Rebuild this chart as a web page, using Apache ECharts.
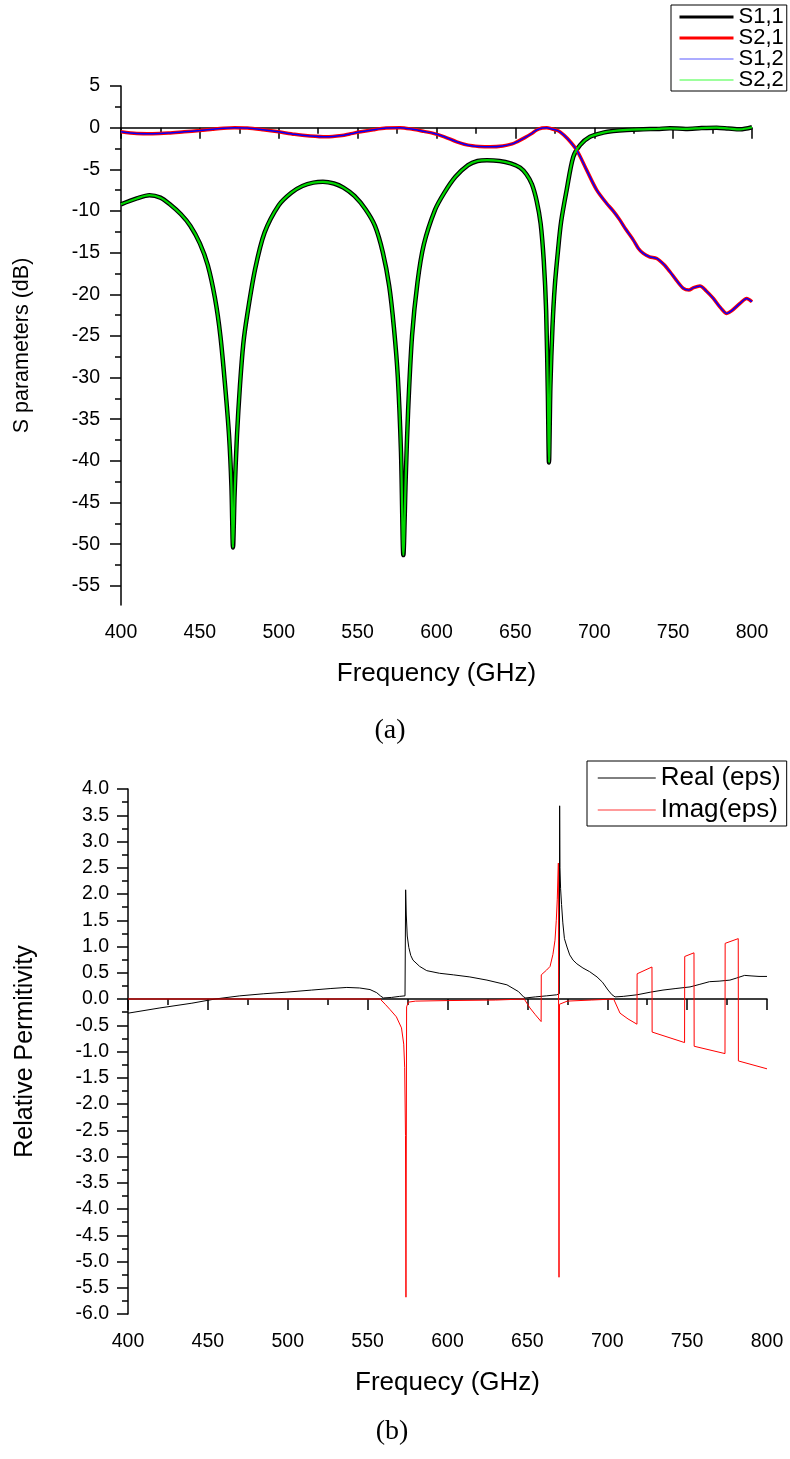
<!DOCTYPE html>
<html>
<head>
<meta charset="utf-8">
<script src="https://cdn.jsdelivr.net/npm/echarts@6/dist/echarts.min.js"></script>
<style>
  html, body { margin: 0; padding: 0; background: #fff; }
  #chart { width: 790px; height: 1459px; }
</style>
</head>
<body>
<div id="chart"></div>
<script>
// (a) S-parameters of the filter, in dB
const dipFreq = [400,410,418,425,431,438,444,450,455,459.6,463,466,468.5,470,471,472,473.5,475.4,477.5,480,485,491,500,508,515,522,528,535,541,548,555,561,566,570,573,575.5,577.5,579,580.5,582,584.5,588,592,599,605,612,620,626,632,640,647,653,657,660.5,663.5,666,668,669.5,670.6,671.3,672.2,673.5,675,677,679,682.5,686.7,691,697.3,705.7,712,720.6,731,740,748,758,768,777.6,785,792.4,800];
const s11 = [-9.2,-8.5,-8.1,-8.4,-9.2,-10.4,-11.8,-13.9,-16.5,-20.5,-25,-31,-37,-43,-50.4,-44,-37,-31,-26,-22.5,-17,-12.6,-9.3,-7.8,-7,-6.6,-6.5,-6.7,-7.2,-8.2,-9.8,-11.8,-15,-19,-24,-30,-39,-51.3,-42,-34,-25,-18.5,-14,-9.9,-7.8,-5.9,-4.5,-4,-3.9,-4,-4.3,-4.8,-5.6,-6.8,-8.8,-11.5,-16,-22,-32,-40.2,-31,-24,-19,-14.8,-11.3,-7.5,-3.5,-2.1,-1.1,-0.6,-0.4,-0.27,-0.2,-0.15,-0.08,-0.15,-0.05,0,-0.1,-0.2,0.05];
const s22 = s11.slice();

const thruFreq = [400,410,420,430,440,450,458,465,472,480,490,500,510,520,530,540,545,552,560,568,577,585,592,598,605,612.8,620,627,634,642,648,651,656,660,663.5,667,670,673,676,678.3,683,688.9,695.2,701.6,707.9,712,716.3,720,724.8,728,731.1,735,739.6,744,748,752,756.5,760,763,767,771,775.5,780,784,787,792.4,796.6,800];
const s21 = [-0.5,-0.7,-0.72,-0.65,-0.5,-0.35,-0.2,-0.08,-0.02,-0.05,-0.25,-0.5,-0.8,-1.0,-1.1,-0.95,-0.76,-0.5,-0.25,-0.05,0,-0.2,-0.45,-0.68,-1.1,-1.7,-2.1,-2.25,-2.3,-2.2,-1.95,-1.7,-1.2,-0.75,-0.28,-0.05,0,-0.15,-0.3,-0.5,-1.3,-2.7,-5.1,-7.5,-9.1,-10,-11.1,-12.2,-13.5,-14.5,-15.1,-15.5,-15.7,-16.4,-17.3,-18.3,-19.3,-19.5,-19.2,-19.0,-19.6,-20.5,-21.6,-22.3,-22.0,-21.1,-20.5,-20.9];
const s12 = s21.slice();

const dbLabels = [5,0,-5,-10,-15,-20,-25,-30,-35,-40,-45,-50,-55];
const dbMinorTicks = [2.5,-2.5,-7.5,-12.5,-17.5,-22.5,-27.5,-32.5,-37.5,-42.5,-47.5,-52.5];

// (b) retrieved relative permittivity
const realFreq = [400,420,440,454.5,470,485,499,515,527,537,545,551.5,555.7,558,559.9,565,570,573.4,573.8,574.2,574.8,575.8,577,578.4,582.6,587,595,603.7,614,624.7,637.2,644.5,647.6,649,655,662,668.3,670.0,670.2,670.4,670.8,671.4,672.2,673.2,674.8,676.5,678.6,681,684.8,689,693.6,697,700.5,703,704.9,710,718.6,727,734.9,743,751.8,758,764,770,776.8,781,786,790,795,800];
const realEps = [-0.27,-0.17,-0.08,0,0.06,0.1,0.13,0.17,0.2,0.22,0.21,0.18,0.12,0.06,0.02,0.03,0.05,0.06,2.08,1.6,1.2,0.98,0.83,0.74,0.62,0.54,0.49,0.46,0.42,0.36,0.27,0.14,0.04,0.02,0.04,0.06,0.08,0.1,3.68,2.5,2.1,1.8,1.45,1.15,0.99,0.84,0.74,0.67,0.59,0.52,0.42,0.32,0.17,0.08,0.04,0.05,0.08,0.13,0.17,0.2,0.23,0.28,0.33,0.34,0.36,0.4,0.45,0.44,0.43,0.43];

const imagFreq = [400,557.8,561,564,568,571.2,572.6,573.2,573.7,574.0,574.4,575.5,580,600,630,648,651.6,655,658.6,658.7,662,664.2,666,667.3,668.1,668.7,669.4,669.7,669.8,670.1,671,675,690,704,708,713,718.6,718.7,728,728.1,748.4,748.5,754.3,754.4,773.7,773.8,782,782.1,800];
const imagEps = [0,0,-0.1,-0.2,-0.34,-0.55,-0.86,-1.3,-2.6,-5.68,-0.15,-0.06,-0.04,-0.03,-0.02,0,-0.17,-0.3,-0.43,0.46,0.55,0.62,0.85,1.12,1.5,1.89,2.59,2.62,-5.3,-0.1,-0.08,-0.04,-0.02,0,-0.27,-0.38,-0.48,0.48,0.61,-0.63,-0.83,0.81,0.88,-0.9,-1.04,1.06,1.15,-1.18,-1.33];

const SANS = '"Liberation Sans", Arial, sans-serif';
const SERIF = '"Liberation Serif", "DejaVu Serif", serif';

function pairs(xs, ys) { return xs.map((x, i) => [x, ys[i]]); }

const axisLineStyle = { color: '#000', width: 1.5 };
const tickLabel = { color: '#000', fontSize: 19.5, fontFamily: SANS };
const hidden = { opacity: 0 };

function freqAxis(gridIndex, name, gap) {
  return {
    gridIndex, type: 'value', min: 400, max: 800, interval: 50,
    axisLine: { lineStyle: axisLineStyle },
    axisTick: { length: 11, lineStyle: axisLineStyle },
    minorTick: { show: true, splitNumber: 2, length: 6, lineStyle: axisLineStyle },
    splitLine: { show: false }, minorSplitLine: { show: false },
    axisLabel: Object.assign({ margin: 18 }, tickLabel),
    name, nameLocation: 'middle', nameGap: gap,
    nameTextStyle: { color: '#000', fontSize: 26, fontFamily: SANS }
  };
}

const option = {
  animation: false,
  backgroundColor: '#fff',
  grid: [
    { left: 121, top: 86, width: 631, height: 519 },
    { left: 128, top: 789, width: 639, height: 525 }
  ],
  xAxis: [
    freqAxis(0, 'Frequency (GHz)', 56),
    freqAxis(1, 'Frequecy (GHz)', 56)
  ],
  yAxis: [
    {
      gridIndex: 0, type: 'value', min: -57.3, max: 5,
      axisLine: { lineStyle: axisLineStyle },
      axisTick: { length: 11, lineStyle: axisLineStyle, customValues: dbLabels },
      axisLabel: Object.assign({ margin: 21, customValues: dbLabels }, tickLabel),
      splitLine: { show: false },
      name: 'S parameters (dB)', nameLocation: 'middle', nameGap: 88,
      nameTextStyle: { color: '#000', fontSize: 21.5, fontFamily: SANS }
    },
    {
      gridIndex: 0, type: 'value', min: -57.3, max: 5, position: 'left',
      axisLine: { show: false },
      axisTick: { length: 6, lineStyle: axisLineStyle, customValues: dbMinorTicks },
      axisLabel: { show: false },
      splitLine: { show: false }
    },
    {
      gridIndex: 1, type: 'value', min: -6, max: 4, interval: 0.5,
      axisLine: { lineStyle: axisLineStyle },
      axisTick: { length: 11, lineStyle: axisLineStyle },
      minorTick: { show: true, splitNumber: 2, length: 6, lineStyle: axisLineStyle },
      splitLine: { show: false }, minorSplitLine: { show: false },
      axisLabel: Object.assign({ margin: 19, formatter: v => v.toFixed(1) }, tickLabel),
      name: 'Relative Permitivity', nameLocation: 'middle', nameGap: 90,
      nameTextStyle: { color: '#000', fontSize: 25, fontFamily: SANS }
    }
  ],
  legend: [
    {
      data: [
        { name: 'S1,1', lineStyle: { color: '#000', width: 3 }, itemStyle: hidden },
        { name: 'S2,1', lineStyle: { color: '#ff0000', width: 3 }, itemStyle: hidden },
        { name: 'S1,2', lineStyle: { color: '#5a5aff', width: 1.2 }, itemStyle: hidden },
        { name: 'S2,2', lineStyle: { color: '#7dff7d', width: 1.5 }, itemStyle: hidden }
      ],
      orient: 'vertical', left: 671, top: 5,
      padding: [1, 3, 0, 7], itemGap: -1, itemWidth: 54, itemHeight: 12,
      borderColor: '#000', borderWidth: 1, itemStyle: hidden,
      textStyle: { color: '#000', fontSize: 22, lineHeight: 21, fontFamily: SANS }
    },
    {
      data: [
        { name: 'Real (eps)', lineStyle: { color: '#000', width: 1 }, itemStyle: hidden },
        { name: 'Imag(eps)', lineStyle: { color: '#ff7a7a', width: 1.5 }, itemStyle: hidden }
      ],
      orient: 'vertical', left: 587, top: 761,
      padding: [3, 6, 2, 10], itemGap: 4, itemWidth: 58, itemHeight: 12,
      borderColor: '#000', borderWidth: 1, itemStyle: hidden,
      textStyle: { color: '#000', fontSize: 26, lineHeight: 28, fontFamily: SANS }
    }
  ],
  graphic: [
    { type: 'text', style: { text: '(a)', x: 390, y: 731, align: 'center', verticalAlign: 'middle', fill: '#000', font: '28px ' + SERIF } },
    { type: 'text', style: { text: '(b)', x: 392, y: 1432, align: 'center', verticalAlign: 'middle', fill: '#000', font: '28px ' + SERIF } }
  ],
  series: [
    { name: 'S1,1', type: 'line', xAxisIndex: 0, yAxisIndex: 0, data: pairs(dipFreq, s11), symbol: 'none', smooth: 0.3, lineStyle: { color: '#000', width: 4.5 }, itemStyle: { color: '#000' } },
    { name: 'S2,1', type: 'line', xAxisIndex: 0, yAxisIndex: 0, data: pairs(thruFreq, s21), symbol: 'none', smooth: 0.3, lineStyle: { color: '#ff0000', width: 3.5 }, itemStyle: { color: '#ff0000' } },
    { name: 'S1,2', type: 'line', xAxisIndex: 0, yAxisIndex: 0, data: pairs(thruFreq, s12), symbol: 'none', smooth: 0.3, lineStyle: { color: '#0000ff', width: 1.5 }, itemStyle: { color: '#0000ff' } },
    { name: 'S2,2', type: 'line', xAxisIndex: 0, yAxisIndex: 0, data: pairs(dipFreq, s22), symbol: 'none', smooth: 0.3, lineStyle: { color: '#00d800', width: 2.2 }, itemStyle: { color: '#00d800' } },
    { name: 'Real (eps)', type: 'line', xAxisIndex: 1, yAxisIndex: 2, data: pairs(realFreq, realEps), symbol: 'none', lineStyle: { color: '#000', width: 1 }, itemStyle: { color: '#000' } },
    { name: 'Imag(eps)', type: 'line', xAxisIndex: 1, yAxisIndex: 2, data: pairs(imagFreq, imagEps), symbol: 'none', lineStyle: { color: '#ff0000', width: 1 }, itemStyle: { color: '#ff0000' } }
  ]
};

const chart = echarts.init(document.getElementById('chart'), null, { renderer: 'canvas' });
chart.setOption(option);
</script>
</body>
</html>
